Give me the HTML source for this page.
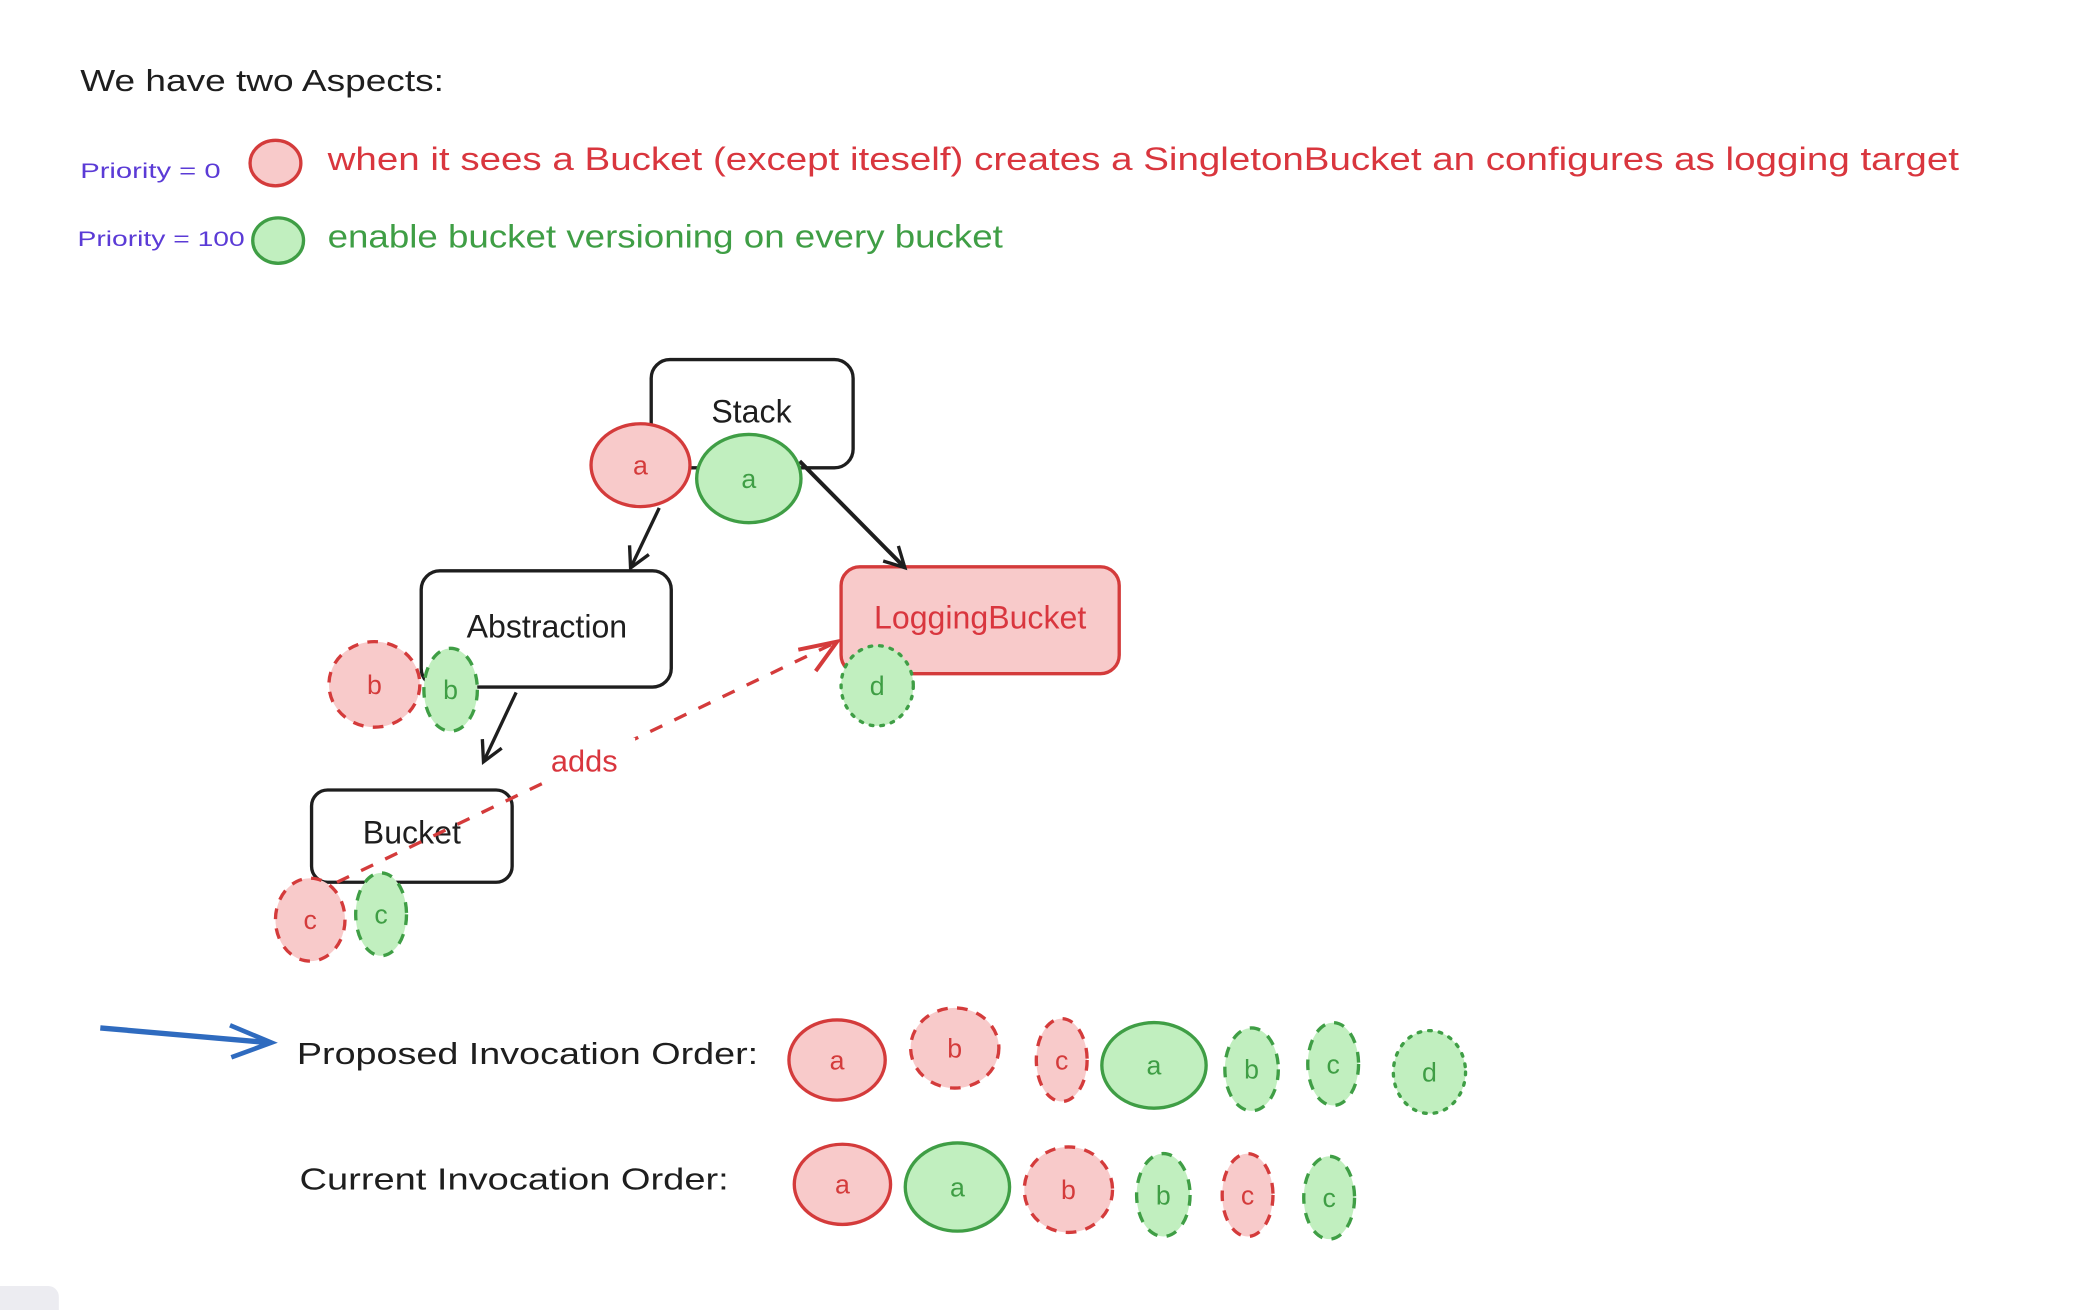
<!DOCTYPE html>
<html><head><meta charset="utf-8"><style>
html,body{margin:0;padding:0;background:#fff;width:2086px;height:1310px;overflow:hidden}
svg{display:block}
text{font-family:"Liberation Sans",sans-serif}
</style></head><body>
<svg width="2086" height="1310" viewBox="0 0 1560 980" preserveAspectRatio="none" xmlns="http://www.w3.org/2000/svg">
<defs>
<marker id="ab" markerWidth="20" markerHeight="20" refX="16" refY="10" orient="auto" markerUnits="userSpaceOnUse" viewBox="0 0 20 20"><path d="M2,2 L17,10 L2,18" fill="none" stroke="#1e1e1e" stroke-width="2.5"/></marker>
</defs>
<rect width="1560" height="980" fill="#fff"/>
<text x="60" y="68" font-size="23" fill="#1e1e1e" textLength="272" lengthAdjust="spacingAndGlyphs">We have two Aspects:</text>
<text x="60" y="133" font-size="16" fill="#5b3bd6" textLength="105" lengthAdjust="spacingAndGlyphs">Priority = 0</text>
<ellipse cx="206" cy="122" rx="19" ry="17" fill="#f8caca" stroke="#d43b3b" stroke-width="2.5"/>
<text x="245" y="127" font-size="24" fill="#d9363e" textLength="1220" lengthAdjust="spacingAndGlyphs">when it sees a Bucket (except iteself) creates a SingletonBucket an configures as logging target</text>
<text x="58" y="184" font-size="16" fill="#5b3bd6" textLength="125" lengthAdjust="spacingAndGlyphs">Priority = 100</text>
<ellipse cx="208" cy="180" rx="19" ry="17" fill="#c1efbf" stroke="#3f9e45" stroke-width="2.5"/>
<text x="245" y="185" font-size="24" fill="#3f9e45" textLength="505" lengthAdjust="spacingAndGlyphs">enable bucket versioning on every bucket</text>

<g stroke="#1e1e1e" stroke-width="2.5" fill="#fff">
<rect x="487" y="269" width="151" height="81" rx="14"/>
<rect x="315" y="427" width="187" height="87" rx="14"/>
<rect x="233" y="591" width="150" height="69" rx="12"/>
</g>
<rect x="629" y="424" width="208" height="80" rx="14" fill="#f8caca" stroke="#d43b3b" stroke-width="2.5"/>
<text x="562" y="316" font-size="24" text-anchor="middle" fill="#1e1e1e">Stack</text>
<text x="409" y="477" font-size="24" text-anchor="middle" fill="#1e1e1e">Abstraction</text>
<text x="733" y="470" font-size="24" text-anchor="middle" fill="#d9363e">LoggingBucket</text>
<text x="308" y="631" font-size="24" text-anchor="middle" fill="#1e1e1e">Bucket</text>

<g fill="none" stroke="#1e1e1e" stroke-width="2.5">
<line x1="493" y1="380" x2="472" y2="424" marker-end="url(#ab)"/>
<line x1="598" y1="345" x2="676" y2="424" stroke-width="3" marker-end="url(#ab)"/>
<line x1="386" y1="518" x2="362" y2="569" marker-end="url(#ab)"/>
</g>
<line x1="252" y1="660" x2="624" y2="481" stroke="#d43b3b" stroke-width="2.5" stroke-dasharray="10 10"/>
<path d="M597,486 L626,480 L610,502" fill="none" stroke="#d43b3b" stroke-width="3"/>
<rect x="405" y="552" width="70" height="32" fill="#fff"/>
<text x="412" y="577" font-size="23" fill="#d9363e">adds</text>

<g font-size="20" text-anchor="middle">
<ellipse cx="479" cy="348" rx="37" ry="31" fill="#f8caca" stroke="#d43b3b" stroke-width="2.5"/><text x="479" y="355" fill="#d43b3b">a</text>
<ellipse cx="560" cy="358" rx="39" ry="33" fill="#c1efbf" stroke="#3f9e45" stroke-width="2.5"/><text x="560" y="365" fill="#3f9e45">a</text>
<ellipse cx="656" cy="513" rx="27" ry="30" fill="#c1efbf" stroke="#3f9e45" stroke-width="2.5" stroke-dasharray="2 6" stroke-linecap="round"/><text x="656" y="520" fill="#3f9e45">d</text>
<ellipse cx="280" cy="512" rx="34" ry="32" fill="#f8caca" stroke="#d43b3b" stroke-width="2.5" stroke-dasharray="8 7"/><text x="280" y="519" fill="#d43b3b">b</text>
<ellipse cx="337" cy="516" rx="20" ry="31" fill="#c1efbf" stroke="#3f9e45" stroke-width="2.5" stroke-dasharray="8 7"/><text x="337" y="523" fill="#3f9e45">b</text>
<ellipse cx="232" cy="688" rx="26" ry="31" fill="#f8caca" stroke="#d43b3b" stroke-width="2.5" stroke-dasharray="8 7"/><text x="232" y="695" fill="#d43b3b">c</text>
<ellipse cx="285" cy="684" rx="19" ry="31" fill="#c1efbf" stroke="#3f9e45" stroke-width="2.5" stroke-dasharray="8 7"/><text x="285" y="691" fill="#3f9e45">c</text>

<ellipse cx="626" cy="793" rx="36" ry="30" fill="#f8caca" stroke="#d43b3b" stroke-width="2.5"/><text x="626" y="800" fill="#d43b3b">a</text>
<ellipse cx="714" cy="784" rx="33" ry="30" fill="#f8caca" stroke="#d43b3b" stroke-width="2.5" stroke-dasharray="8 7"/><text x="714" y="791" fill="#d43b3b">b</text>
<ellipse cx="794" cy="793" rx="19" ry="31" fill="#f8caca" stroke="#d43b3b" stroke-width="2.5" stroke-dasharray="8 7"/><text x="794" y="800" fill="#d43b3b">c</text>
<ellipse cx="863" cy="797" rx="39" ry="32" fill="#c1efbf" stroke="#3f9e45" stroke-width="2.5"/><text x="863" y="804" fill="#3f9e45">a</text>
<ellipse cx="936" cy="800" rx="20" ry="31" fill="#c1efbf" stroke="#3f9e45" stroke-width="2.5" stroke-dasharray="8 7"/><text x="936" y="807" fill="#3f9e45">b</text>
<ellipse cx="997" cy="796" rx="19" ry="31" fill="#c1efbf" stroke="#3f9e45" stroke-width="2.5" stroke-dasharray="8 7"/><text x="997" y="803" fill="#3f9e45">c</text>
<ellipse cx="1069" cy="802" rx="27" ry="31" fill="#c1efbf" stroke="#3f9e45" stroke-width="2.5" stroke-dasharray="2 6" stroke-linecap="round"/><text x="1069" y="809" fill="#3f9e45">d</text>

<ellipse cx="630" cy="886" rx="36" ry="30" fill="#f8caca" stroke="#d43b3b" stroke-width="2.5"/><text x="630" y="893" fill="#d43b3b">a</text>
<ellipse cx="716" cy="888" rx="39" ry="33" fill="#c1efbf" stroke="#3f9e45" stroke-width="2.5"/><text x="716" y="895" fill="#3f9e45">a</text>
<ellipse cx="799" cy="890" rx="33" ry="32" fill="#f8caca" stroke="#d43b3b" stroke-width="2.5" stroke-dasharray="8 7"/><text x="799" y="897" fill="#d43b3b">b</text>
<ellipse cx="870" cy="894" rx="20" ry="31" fill="#c1efbf" stroke="#3f9e45" stroke-width="2.5" stroke-dasharray="8 7"/><text x="870" y="901" fill="#3f9e45">b</text>
<ellipse cx="933" cy="894" rx="19" ry="31" fill="#f8caca" stroke="#d43b3b" stroke-width="2.5" stroke-dasharray="8 7"/><text x="933" y="901" fill="#d43b3b">c</text>
<ellipse cx="994" cy="896" rx="19" ry="31" fill="#c1efbf" stroke="#3f9e45" stroke-width="2.5" stroke-dasharray="8 7"/><text x="994" y="903" fill="#3f9e45">c</text>
</g>

<line x1="75" y1="769" x2="201" y2="780" stroke="#2f6bbf" stroke-width="4"/>
<path d="M172,767 L203,780 L173,791" fill="none" stroke="#2f6bbf" stroke-width="3.5"/>
<text x="222" y="796" font-size="23" fill="#1e1e1e" textLength="345" lengthAdjust="spacingAndGlyphs">Proposed Invocation Order:</text>
<text x="224" y="890" font-size="23" fill="#1e1e1e" textLength="321" lengthAdjust="spacingAndGlyphs">Current Invocation Order:</text>

<rect x="-10" y="962" width="54" height="40" rx="8" fill="#ececf1"/>
</svg>
</body></html>
